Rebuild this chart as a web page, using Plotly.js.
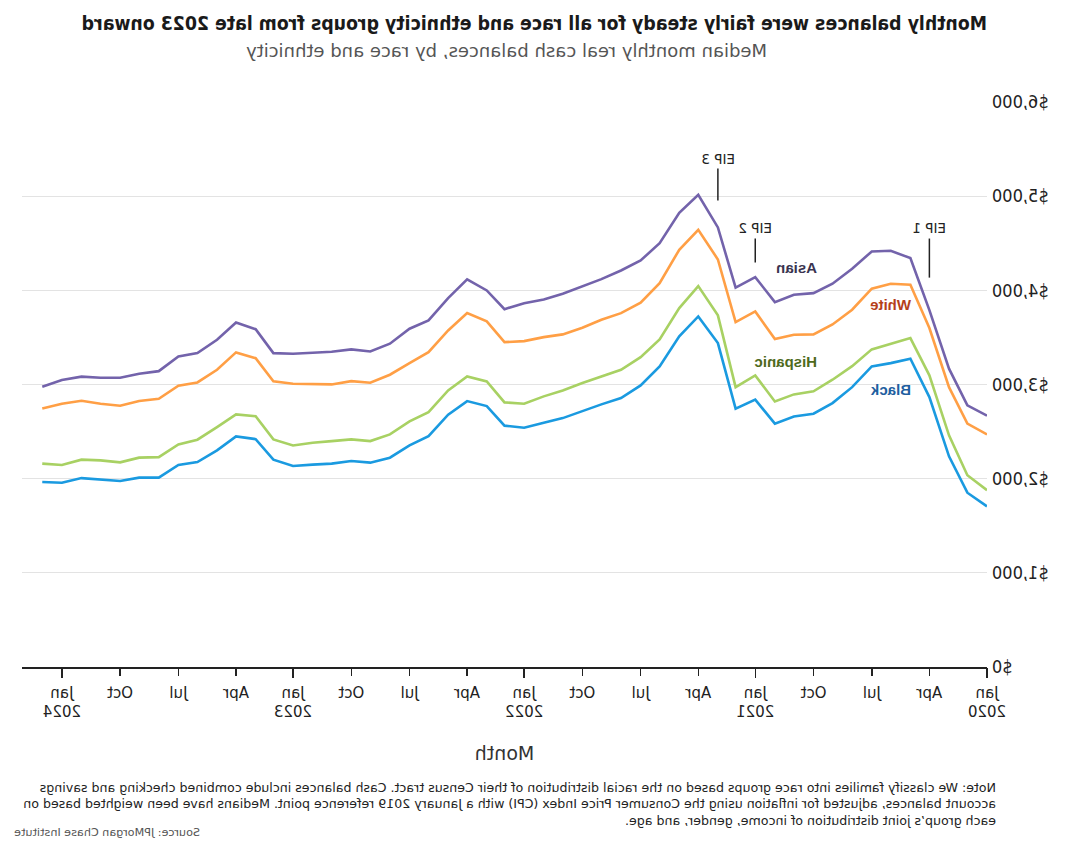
<!DOCTYPE html>
<html>
<head>
<meta charset="utf-8">
<script src="https://cdn.plot.ly/plotly-3.0.1.min.js"></script>
<style>
  html, body { margin: 0; padding: 0; background: #fff; }
  #wrap { width: 1070px; height: 853px; transform: scaleX(-1); transform-origin: center; }
  #chart { width: 1070px; height: 853px; }
</style>
</head>
<body>
<div id="wrap"><div id="chart"></div></div>
<script>
// ---- Data (monthly, Jan 2020 .. Feb 2024) ----
const months = [
  '2020-01-01','2020-02-01','2020-03-01','2020-04-01','2020-05-01','2020-06-01','2020-07-01','2020-08-01','2020-09-01','2020-10-01','2020-11-01','2020-12-01',
  '2021-01-01','2021-02-01','2021-03-01','2021-04-01','2021-05-01','2021-06-01','2021-07-01','2021-08-01','2021-09-01','2021-10-01','2021-11-01','2021-12-01',
  '2022-01-01','2022-02-01','2022-03-01','2022-04-01','2022-05-01','2022-06-01','2022-07-01','2022-08-01','2022-09-01','2022-10-01','2022-11-01','2022-12-01',
  '2023-01-01','2023-02-01','2023-03-01','2023-04-01','2023-05-01','2023-06-01','2023-07-01','2023-08-01','2023-09-01','2023-10-01','2023-11-01','2023-12-01',
  '2024-01-01','2024-02-01'
];
const asian = [2669,2778,3168,3790,4342,4420,4413,4229,4070,3970,3953,3875,
  4140,4028,4668,5015,4824,4501,4317,4211,4119,4041,3964,3903,
  3864,3800,3999,4116,3917,3680,3592,3433,3351,3373,3348,3337,
  3327,3333,3587,3659,3475,3333,3298,3142,3115,3072,3072,3083,
  3047,2977];
const white = [2470,2584,2972,3600,4059,4070,4017,3794,3638,3532,3529,3482,
  3776,3662,4328,4643,4431,4076,3868,3758,3688,3603,3532,3503,
  3461,3450,3670,3758,3574,3344,3227,3104,3019,3036,3001,3001,
  3008,3033,3280,3341,3157,3022,2987,2849,2824,2775,2796,2828,
  2796,2746];
const hispanic = [1878,2037,2460,3097,3493,3433,3373,3195,3051,2927,2895,2820,
  3097,2972,3734,4045,3811,3479,3291,3157,3086,3015,2937,2874,
  2796,2810,3033,3086,2937,2707,2608,2470,2399,2417,2399,2382,
  2353,2417,2662,2683,2548,2414,2364,2229,2223,2173,2194,2202,
  2145,2160];
const black = [1706,1851,2237,2866,3274,3227,3192,2972,2803,2690,2661,2584,
  2839,2743,3440,3723,3511,3192,2990,2856,2789,2718,2643,2594,
  2541,2563,2771,2824,2679,2452,2353,2223,2170,2187,2160,2149,
  2134,2202,2420,2449,2300,2176,2145,2011,2011,1975,1989,2006,
  1957,1964];

const seriesNames = ['Asian','White','Hispanic','Black'];
const seriesColors = ['#7363ab','#ff9f45','#a8d163','#1a9ae0'];
const labelColors = ['#3a3450','#b5401a','#4e6a1c','#1f5fa0'];
const labelDates = ['2020-10-28','2020-06-02','2020-11-14','2020-06-02'];
const labelValues = [4243,3847,3245,2948];

const tickDates = ['2020-01-01','2020-04-01','2020-07-01','2020-10-01','2021-01-01','2021-04-01','2021-07-01','2021-10-01',
  '2022-01-01','2022-04-01','2022-07-01','2022-10-01','2023-01-01','2023-04-01','2023-07-01','2023-10-01','2024-01-01'];
const tickLabels = ['Jan<br>2020','Apr','Jul','Oct','Jan<br>2021','Apr','Jul','Oct',
  'Jan<br>2022','Apr','Jul','Oct','Jan<br>2023','Apr','Jul','Oct','Jan<br>2024'];
const yearTicks = ['2020-01-01','2021-01-01','2022-01-01','2023-01-01','2024-01-01'];
const yTicks = [0,1000,2000,3000,4000,5000,6000];
const yTickLabels = ['$0','$1,000','$2,000','$3,000','$4,000','$5,000','$6,000'];

const eipLabels = ['EIP 1','EIP 2','EIP 3'];
const eipDates = ['2020-04-01','2021-01-01','2021-03-01'];
const eipLineTop = [4550,4550,5294];
const eipLineBottom = [4135,4296,4954];
const eipTextY = [4657,4657,5400];

const titleText = 'Monthly balances were fairly steady for all race and ethnicity groups from late 2023 onward';
const subtitleText = 'Median monthly real cash balances, by race and ethnicity';
const noteText = 'Note: We classify families into race groups based on the racial distribution of their Census tract. Cash balances include combined checking and savings<br>account balances, adjusted for inflation using the Consumer Price Index (CPI) with a January 2019 reference point. Medians have been weighted based on<br>each group\u2019s joint distribution of income, gender, and age.';
const sourceText = 'Source: JPMorgan Chase Institute';

const FONT = 'Liberation Sans, Arial, sans-serif';
const DJ = 'DejaVu Sans, sans-serif';
const DJC = 'DejaVu Sans Condensed, DejaVu Sans, sans-serif';
const allSeries = [asian, white, hispanic, black];

const traces = allSeries.map((vals, i) => ({
  type: 'scatter', mode: 'lines', x: months, y: vals, name: seriesNames[i],
  line: { color: seriesColors[i], width: 2.6 }, hoverinfo: 'x+y+name'
}));
// invisible trace on overlay axis for the longer January ticks
traces.push({ type: 'scatter', mode: 'lines', x: [months[0]], y: [0], xaxis: 'x2', yaxis: 'y',
  showlegend: false, hoverinfo: 'skip', line: { width: 0 } });

const annotations = [];
seriesNames.forEach((n, i) => annotations.push({
  x: labelDates[i], y: labelValues[i], xref: 'x', yref: 'y', text: '<b>' + n + '</b>',
  showarrow: false, xanchor: 'center', yanchor: 'middle',
  font: { family: FONT, size: 15, color: labelColors[i] }
}));
eipLabels.forEach((t, i) => annotations.push({
  x: eipDates[i], y: eipTextY[i], xref: 'x', yref: 'y', text: t, showarrow: false,
  xanchor: 'center', yanchor: 'middle', font: { family: DJ, size: 13.5, color: '#222' }
}));
annotations.push({ text: '<b>' + titleText + '</b>', xref: 'paper', yref: 'paper', x: 0.4684, y: 1.139,
  xanchor: 'center', yanchor: 'middle', showarrow: false, font: { family: DJC, size: 19.3, color: '#1a1a1a' } });
annotations.push({ text: subtitleText, xref: 'paper', yref: 'paper', x: 0.4984, y: 1.0905,
  xanchor: 'center', yanchor: 'middle', showarrow: false, font: { family: DJ, size: 18, color: '#555' } });
annotations.push({ text: noteText, xref: 'paper', yref: 'paper', x: -0.0115, y: -0.197,
  xanchor: 'left', yanchor: 'top', align: 'left', showarrow: false, font: { family: DJ, size: 12.6, color: '#222' } });
annotations.push({ text: sourceText, xref: 'paper', yref: 'paper', x: 1.0104, y: -0.2935,
  xanchor: 'right', yanchor: 'middle', showarrow: false, font: { family: DJ, size: 11.2, color: '#555' } });

const shapes = eipDates.map((d, i) => ({
  type: 'line', xref: 'x', yref: 'y', x0: d, x1: d, y0: eipLineBottom[i], y1: eipLineTop[i],
  line: { color: '#222', width: 1.5 }
}));

const xRange = ['2020-01-01', '2024-03-04'];
const layout = {
  width: 1070, height: 853,
  margin: { l: 83, r: 22, t: 101.5, b: 186.3 },
  paper_bgcolor: '#fff', plot_bgcolor: '#fff',
  showlegend: false,
  font: { family: DJ, color: '#222' },
  xaxis: {
    type: 'date', range: xRange, tickmode: 'array', tickvals: tickDates, ticktext: tickLabels,
    ticks: 'outside', ticklen: 7, tickwidth: 1.5, tickcolor: '#222',
    showline: true, linecolor: '#222', linewidth: 1.5, showgrid: false, zeroline: false,
    ticklabelstandoff: 4,
    tickfont: { family: DJ, size: 15, color: '#222' },
    title: { text: 'Month', font: { family: DJ, size: 19, color: '#333' }, standoff: 26 }
  },
  xaxis2: {
    type: 'date', range: xRange, overlaying: 'x', anchor: 'y', side: 'bottom',
    tickmode: 'array', tickvals: yearTicks, ticks: 'outside', ticklen: 10, tickwidth: 1.5, tickcolor: '#222',
    showticklabels: false, showgrid: false, showline: false, zeroline: false
  },
  yaxis: {
    range: [0, 6000], tickmode: 'array', tickvals: yTicks, ticktext: yTickLabels,
    showgrid: true, gridcolor: '#e3e3e3', gridwidth: 1.3, zeroline: false, showline: false, ticks: '',
    ticklabelstandoff: 4,
    tickfont: { family: DJC, size: 18, color: '#222' }
  },
  annotations: annotations,
  shapes: shapes
};

Plotly.newPlot('chart', traces, layout, { displayModeBar: false, staticPlot: true });
</script>
</body>
</html>
